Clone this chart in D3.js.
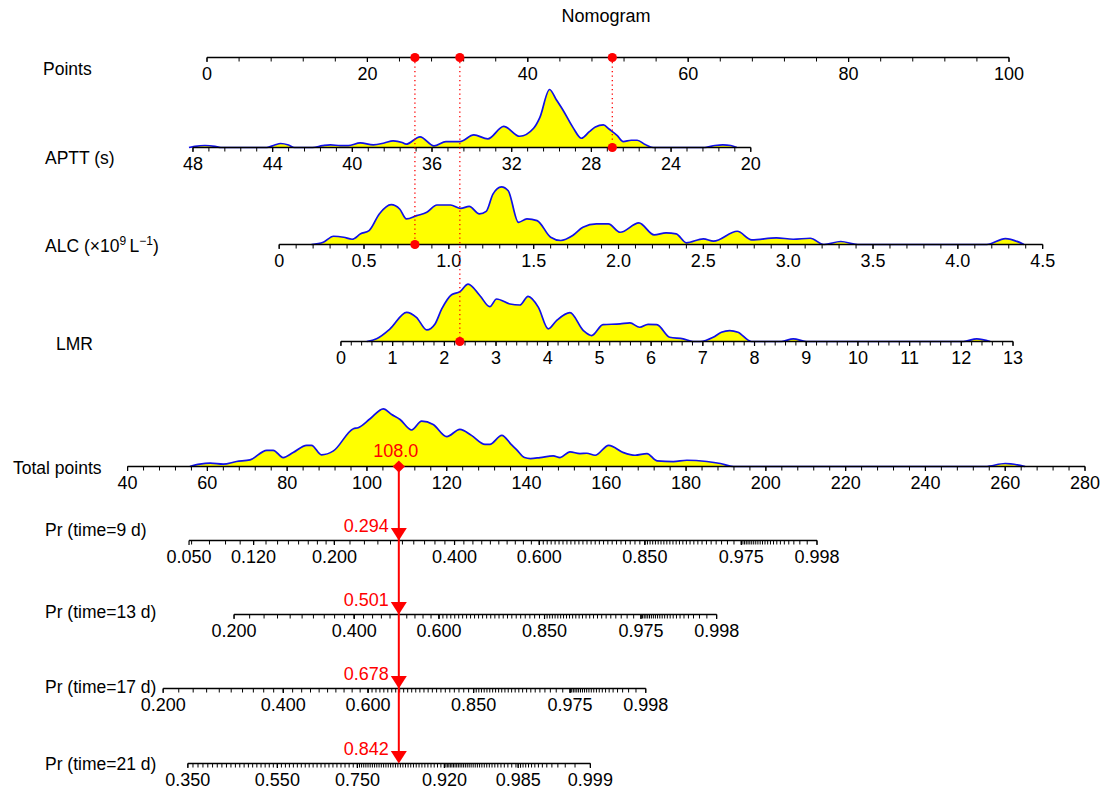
<!DOCTYPE html>
<html><head><meta charset="utf-8">
<script src="https://cdn.jsdelivr.net/npm/d3@7"></script>
<style>body{margin:0;background:#fff}svg{display:block}text{font-family:"Liberation Sans",Arial,sans-serif;fill:#000}</style>
</head><body><svg id="c" width="1106" height="790"></svg>
<script>
// ---------------- data ----------------
const pointsTicks = [0, 20, 40, 60, 80, 100];
const apttTicks = [48, 44, 40, 36, 32, 28, 24, 20];
const alcTicks = [0, 0.5, 1.0, 1.5, 2.0, 2.5, 3.0, 3.5, 4.0, 4.5];
const lmrTicks = [0,1,2,3,4,5,6,7,8,9,10,11,12,13];
const totalTicks = [40,60,80,100,120,140,160,180,200,220,240,260,280];

// points contributed by each predictor (value range -> points range)
const apttPtsDomain = [48, 20], apttPtsRange = [-1.75, 67.8];
const alcPtsDomain = [0, 4.5], alcPtsRange = [9.0, 104.2];
const lmrPtsDomain = [0, 13], lmrPtsRange = [16.7, 100.5];

// patient
const patientAPTT = 26.95, patientALC = 0.80, patientLMR = 2.30;

// survival model: Pr = 1 - exp(-H * exp(beta*(tp - tpRef)))
const prTimes = [9, 13, 17, 21];
const prCumHaz = [0.348, 0.695, 1.133, 1.845];
const prBeta = 0.0275, prTpRef = 108;
const prLabels = [
  [0.050, 0.120, 0.200, 0.400, 0.600, 0.850, 0.975, 0.998],
  [0.200, 0.400, 0.600, 0.850, 0.975, 0.998],
  [0.200, 0.400, 0.600, 0.850, 0.975, 0.998],
  [0.350, 0.550, 0.750, 0.920, 0.985, 0.999]
];
// minor tick step used inside each labelled segment
const prMinorSteps = [
  [0.01, 0.01, 0.02, 0.02, 0.01, 0.005, 0.001],
  [0.02, 0.02, 0.01, 0.005, 0.001],
  [0.02, 0.02, 0.01, 0.005, 0.001],
  [0.01, 0.01, 0.005, 0.002, 0.001]
];
const prAxisMinTotal = [55.4, null, null, null]; // axis clipped to observed total points

// densities [value, density (arbitrary units)]
const apttDensity = [[48.2,0],[47.9,1.2],[47.4,2],[46.9,1.2],[46.6,0],[44.3,0],[43.9,2.5],[43.6,4],[43.2,2.5],[42.9,0],[42.0,0],[41.5,1.8],[41.1,2.7],[40.6,1.8],[40.2,1.8],[39.6,4.7],[38.95,2.7],[38.4,4.5],[37.95,6.7],[37.5,5],[37.3,3.3],[36.6,10.7],[35.9,1.7],[35.3,6],[34.6,6],[33.9,12.7],[33.2,8.7],[32.4,21.3],[31.6,11.3],[30.9,19.3],[30.59,30],[30.1,58.3],[29.76,48],[29.4,36.7],[28.92,20],[28.5,9.3],[28.1,16],[27.8,20.7],[27.4,22.7],[27.1,18.3],[26.7,12],[26.4,6],[26.0,7.3],[25.7,7.3],[25.3,3],[24.9,0],[22.3,0],[21.8,2],[21.4,2.7],[21.0,2],[20.7,0]];
const alcDensity = [[0.19,0],[0.26,2.3],[0.32,8.3],[0.38,7.3],[0.43,5.3],[0.48,10.7],[0.53,14],[0.59,30.7],[0.66,40],[0.71,35.7],[0.75,25.7],[0.81,29],[0.87,32.3],[0.93,39.7],[1.01,39.7],[1.07,36.3],[1.12,38.3],[1.18,30.7],[1.22,33.3],[1.26,50.7],[1.31,58],[1.35,54],[1.41,22.3],[1.46,25.7],[1.52,24],[1.60,7.3],[1.66,4],[1.73,9],[1.79,17.3],[1.87,20.7],[1.94,20.7],[2.01,12.3],[2.12,21.7],[2.21,9.7],[2.28,11.7],[2.34,10.7],[2.40,1.7],[2.50,5.7],[2.56,3.3],[2.70,13.3],[2.785,4.7],[2.93,6.7],[3.03,5.3],[3.13,6.3],[3.21,0],[3.31,3],[3.41,0],[4.17,0],[4.28,6],[4.39,0]];
const lmrDensity = [[0.50,0],[0.69,2.7],[0.95,12.7],[1.27,29.3],[1.46,24.3],[1.66,11.7],[1.82,17.7],[1.95,32.7],[2.14,47],[2.30,50],[2.46,57.7],[2.69,46],[2.88,35],[3.01,42.7],[3.27,37.7],[3.46,36.7],[3.62,45.3],[3.82,34.3],[4.01,12.7],[4.17,21],[4.43,29],[4.69,11],[4.85,6],[5.07,17],[5.40,17.7],[5.59,18.7],[5.78,14.3],[5.94,17.3],[6.11,17],[6.36,4.3],[6.62,2.7],[6.81,0],[6.95,0],[7.20,4.3],[7.36,9.3],[7.52,11],[7.68,9.3],[7.94,0],[8.52,0],[8.75,2.7],[9.0,0],[12.04,0],[12.30,2.7],[12.56,0]];
const totalDensity = [[55.6,0],[58.1,2.3],[60.7,3.3],[64.0,2.3],[67.3,5],[70.7,6.7],[74.9,16.3],[76.5,16.3],[79.0,9],[81.5,14],[84.9,21.3],[86.1,21.3],[88.6,11.7],[91.6,15.7],[96.6,38],[97.8,39],[100.8,48],[104.1,58],[106.2,52.3],[108.3,47.3],[111.2,36.7],[113.7,45.7],[116.6,42.3],[120.0,30],[123.3,37.3],[126.2,31.3],[129.6,22.3],[130.8,22.3],[133.8,31.3],[136.2,22],[137.5,17],[139.5,9],[141,8],[143.4,9],[146.7,10.7],[148.4,9],[150.9,14.7],[153.4,13],[155.1,13.3],[157.2,11.3],[160.6,21.3],[164.3,14],[167.2,11.3],[170.2,13],[172.7,5.7],[176.8,5],[180.2,6.3],[185.2,5],[188.6,3],[191.9,0],[255,0],[260,3],[265,0]];

// ---------------- layout ----------------
const svg = d3.select("#c");
const ptsX = d3.scaleLinear().domain([0, 100]).range([207, 1009]);
const totX = d3.scaleLinear().domain([40, 280]).range([127.6, 1085]);
const yRow = {points: 57.5, aptt: 147.5, alc: 244.5, lmr: 341.5, total: 466.5};
const yPr = [540.5, 614.5, 688.5, 763.5];
const densY = d3.scaleLinear().domain([0, 58.3]).range([0, 58]);
const FS = 18, LFS = 17.5, tickLen = 4, labDy = 22;
const RED = "#ff0000", BLUE = "#1010e8", YEL = "#ffff00";

const apttPts = d3.scaleLinear().domain(apttPtsDomain).range(apttPtsRange);
const alcPts = d3.scaleLinear().domain(alcPtsDomain).range(alcPtsRange);
const lmrPts = d3.scaleLinear().domain(lmrPtsDomain).range(lmrPtsRange);

function stepRange(a, b, s) {
  const k0 = Math.round(a / s), k1 = Math.round(b / s);
  return d3.range(k0, k1 + 1).map(k => +(k * s).toFixed(6));
}

const gDens = svg.append("g"), gAxis = svg.append("g"), gRed = svg.append("g");

function density(data, xOf, y) {
  const area = d3.area().x(d => xOf(d[0])).y0(y).y1(d => y - densY(d[1])).curve(d3.curveMonotoneX);
  const line = d3.line().x(d => xOf(d[0])).y(d => y - densY(d[1])).curve(d3.curveMonotoneX);
  const sorted = data.slice().sort((a, b) => xOf(a[0]) - xOf(b[0]));
  gDens.append("path").attr("d", area(sorted)).attr("fill", YEL);
  gDens.append("path").attr("d", line(sorted)).attr("fill", "none").attr("stroke", BLUE).attr("stroke-width", 1.7);
}

function axis(y, x0, x1, minorXs, majors) {
  gAxis.append("line").attr("x1", x0).attr("x2", x1).attr("y1", y).attr("y2", y)
    .attr("stroke", "#000").attr("stroke-width", 1.3);
  gAxis.selectAll(null).data(minorXs).enter().append("line")
    .attr("x1", d => d).attr("x2", d => d).attr("y1", y).attr("y2", y + tickLen)
    .attr("stroke", "#000").attr("stroke-width", 1);
  gAxis.selectAll(null).data(majors).enter().append("line")
    .attr("x1", d => d.x).attr("x2", d => d.x).attr("y1", y).attr("y2", y + tickLen + 0.5)
    .attr("stroke", "#000").attr("stroke-width", 1.2);
  gAxis.selectAll(null).data(majors).enter().append("text")
    .attr("x", d => d.x).attr("y", y + labDy).attr("text-anchor", "middle")
    .attr("font-size", FS).text(d => d.label);
}

function rowLabel(txt, x, y) {
  return svg.append("text").attr("x", x).attr("y", y).attr("font-size", LFS).text(txt);
}

// title
svg.append("text").attr("x", 606).attr("y", 22).attr("text-anchor", "middle").attr("font-size", FS).text("Nomogram");

// Points
axis(yRow.points, ptsX(0), ptsX(100), stepRange(0, 100, 4).map(ptsX),
  pointsTicks.map(v => ({x: ptsX(v), label: v})));
rowLabel("Points", 43, 74.5);

// APTT
const apttX = v => ptsX(apttPts(v));
density(apttDensity, apttX, yRow.aptt);
axis(yRow.aptt, apttX(48), apttX(20), stepRange(20, 48, 0.8).map(apttX),
  apttTicks.map(v => ({x: apttX(v), label: v})));
rowLabel("APTT (s)", 45, 163.5);

// ALC
const alcX = v => ptsX(alcPts(v));
density(alcDensity, alcX, yRow.alc);
axis(yRow.alc, alcX(0), alcX(4.5), stepRange(0, 4.5, 0.1).map(alcX),
  alcTicks.map(v => ({x: alcX(v), label: v === 0 ? "0" : v.toFixed(1)})));
const alcLab = rowLabel("", 45, 251.5);
alcLab.append("tspan").text("ALC (\u00d710");
alcLab.append("tspan").attr("dy", -7).attr("font-size", 12).text("9");
alcLab.append("tspan").attr("dy", 7).text("\u2009L");
alcLab.append("tspan").attr("dy", -7).attr("font-size", 12).text("\u22121");
alcLab.append("tspan").attr("dy", 7).text(")");

// LMR
const lmrX = v => ptsX(lmrPts(v));
density(lmrDensity, lmrX, yRow.lmr);
axis(yRow.lmr, lmrX(0), lmrX(13), stepRange(0, 13, 0.2).map(lmrX),
  lmrTicks.map(v => ({x: lmrX(v), label: v})));
rowLabel("LMR", 56, 349.5);

// Total points
density(totalDensity, totX, yRow.total);
axis(yRow.total, totX(40), totX(280), stepRange(40, 280, 4).map(totX),
  totalTicks.map(v => ({x: totX(v), label: v})));
rowLabel("Total points", 13, 473.5);

// Pr axes
const cll = p => Math.log(-Math.log(1 - p));
const prX = prCumHaz.map(H => {
  const s = d3.scaleLinear().domain([Math.log(H), Math.log(H) + 1]).range([prTpRef, prTpRef + 1 / prBeta]);
  return p => totX(s(cll(p)));
});
const prLabelY = [536, 618, 693, 770];
prTimes.forEach((t, i) => {
  const labs = prLabels[i], xOf = prX[i];
  const xMin = prAxisMinTotal[i] != null ? totX(prAxisMinTotal[i]) : xOf(labs[0]);
  const x0 = Math.max(xOf(labs[0]), xMin), x1 = xOf(labs[labs.length - 1]);
  let minors = [];
  for (let k = 0; k < labs.length - 1; k++) {
    minors = minors.concat(stepRange(labs[k], labs[k + 1], prMinorSteps[i][k]));
  }
  const mx = minors.map(xOf).filter(x => x >= x0 - 0.01 && x <= x1 + 0.01);
  axis(yPr[i], x0, x1, mx, labs.map(p => ({x: Math.max(xOf(p), x0), label: p.toFixed(3)})));
  rowLabel(`Pr (time=${t} d)`, 45, prLabelY[i]);
});

// ---------------- patient (red) ----------------
const pA = apttPts(patientAPTT), pC = alcPts(patientALC), pL = lmrPts(patientLMR);
const total = pA + pC + pL;
const marks = [
  {x: apttX(patientAPTT), y: yRow.aptt},
  {x: alcX(patientALC), y: yRow.alc},
  {x: lmrX(patientLMR), y: yRow.lmr}
];
gRed.selectAll(null).data(marks).enter().append("line")
  .attr("x1", d => d.x).attr("x2", d => d.x).attr("y1", yRow.points).attr("y2", d => d.y)
  .attr("stroke", RED).attr("stroke-width", 1.3).attr("stroke-dasharray", "1.3,3.2");
gRed.selectAll(null).data(marks).enter().append("circle")
  .attr("cx", d => d.x).attr("cy", yRow.points).attr("r", 4.6).attr("fill", RED);
gRed.selectAll(null).data(marks).enter().append("circle")
  .attr("cx", d => d.x).attr("cy", d => d.y).attr("r", 4.6).attr("fill", RED);

const tx = totX(total);
gRed.append("line").attr("x1", tx).attr("x2", tx).attr("y1", yRow.total).attr("y2", yPr[3] - 6)
  .attr("stroke", RED).attr("stroke-width", 2);
gRed.append("path").attr("d", d3.symbol(d3.symbolSquare, 75)())
  .attr("transform", `translate(${tx},${yRow.total}) rotate(45)`).attr("fill", RED);
gRed.append("text").attr("x", tx - 3).attr("y", yRow.total - 10).attr("text-anchor", "middle")
  .attr("font-size", FS).style("fill", RED).text(total.toFixed(1));
prTimes.forEach((t, i) => {
  const p = 1 - Math.exp(-prCumHaz[i] * Math.exp(prBeta * (total - prTpRef)));
  const y = yPr[i];
  gRed.append("path").attr("d", `M${tx - 8},${y - 12.5}L${tx + 8},${y - 12.5}L${tx},${y}Z`).attr("fill", RED);
  gRed.append("text").attr("x", tx - 10).attr("y", y - 9).attr("text-anchor", "end")
    .attr("font-size", FS).style("fill", RED).text(p.toFixed(3));
});
</script></body></html>
